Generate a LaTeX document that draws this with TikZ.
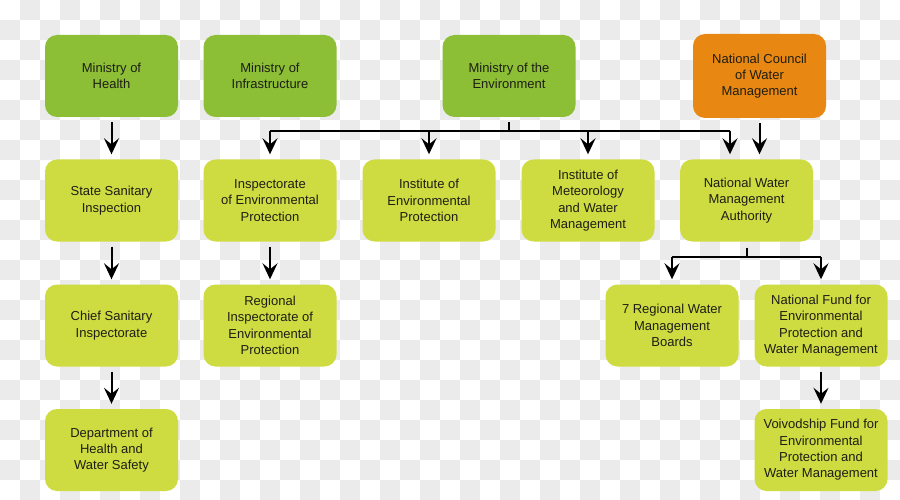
\documentclass[tikz,border=0pt]{standalone}
\usepackage{fontspec}
\setmainfont{Liberation Sans}
\usetikzlibrary{arrows.meta}
\definecolor{bggray}{HTML}{EBEBEB}
\definecolor{darkgr}{HTML}{8CBE36}
\definecolor{lightgr}{HTML}{CEDC42}
\definecolor{orng}{HTML}{E88712}
\definecolor{txt}{HTML}{1E1E14}
\tikzset{
  box/.style={rectangle, rounded corners=12pt, minimum width=133pt, minimum height=82pt,
    align=center, text=txt, font=\fontsize{13}{16.3}\selectfont, inner sep=2pt},
  topbox/.style={box, fill=darkgr},
  subbox/.style={box, fill=lightgr},
  councilbox/.style={box, fill=orng, minimum height=84pt},
  ln/.style={line width=2pt, black},
  arr/.style={ln, -{Stealth[length=16pt, width=15pt, inset=6pt]}},
}
\begin{document}
\begin{tikzpicture}[x=1pt,y=-1pt]
\useasboundingbox (0,0) rectangle (900,500);
\fill[white] (0,0) rectangle (900,500);
\foreach \j in {0,2,...,24} \foreach \i in {1,3,...,43} \fill[bggray] (\i*20,\j*20) rectangle ++(20,20);
\foreach \j in {1,3,...,23} \foreach \i in {0,2,...,44} \fill[bggray] (\i*20,\j*20) rectangle ++(20,20);

% top row
\node[topbox] (health) at (111.5,76) {Ministry of\\Health};
\node[topbox] (infra) at (270,76) {Ministry of\\Infrastructure};
\node[topbox] (env) at (509,76) {Ministry of the\\Environment};
\node[councilbox] (council) at (759.5,76) {National Council\\of Water\\Management};

% second row
\node[subbox] (ssi) at (111.5,200.5) {State Sanitary\\Inspection};
\node[subbox] (iep) at (270,200.5) {Inspectorate\\of Environmental\\Protection};
\node[subbox] (inst) at (429,200.5) {Institute of\\Environmental\\Protection};
\node[subbox] (imet) at (588,200.5) {Institute of\\Meteorology\\and Water\\Management};
\node[subbox] (nwma) at (746.5,200.5) {National Water\\Management\\Authority};

% third row
\node[subbox] (csi) at (111.5,325.5) {Chief Sanitary\\Inspectorate};
\node[subbox] (riep) at (270,325.5) {Regional\\Inspectorate of\\Environmental\\Protection};
\node[subbox] (rwmb) at (672,325.5) {7 Regional Water\\Management\\Boards};
\node[subbox] (fund) at (821,325.5) {National Fund for\\Environmental\\Protection and\\Water Management};

% fourth row
\node[subbox] (dept) at (111.5,450) {Department of\\Health and\\Water Safety};
\node[subbox] (voiv) at (821,450) {Voivodship Fund for\\Environmental\\Protection and\\Water Management};

% simple arrows
\draw[arr, shorten <=5pt, shorten >=5pt] (health) -- (ssi);
\draw[arr, shorten <=5pt, shorten >=5pt] (ssi) -- (csi);
\draw[arr, shorten <=5pt, shorten >=5pt] (csi) -- (dept);
\draw[arr, shorten <=5pt, shorten >=5pt] (iep) -- (riep);
\draw[arr, shorten <=5pt, shorten >=5pt] (fund) -- (voiv);
\draw[arr, shorten <=5pt, shorten >=5pt] (council.south) -- (council.south |- nwma.north);

% ministry of environment branch
\coordinate (envj) at (509,131);
\coordinate (nwj) at (730,131);
\draw[ln, shorten <=5pt] (env.south) -- (envj);
\draw[ln] (iep.north |- envj) -- (nwj);
\draw[arr, shorten >=5pt] (iep.north |- envj) -- (iep.north);
\draw[arr, shorten >=5pt] (inst.north |- envj) -- (inst.north);
\draw[arr, shorten >=5pt] (imet.north |- envj) -- (imet.north);
\draw[arr, shorten >=5pt] (nwj) -- (nwj |- nwma.north);

% NWMA branch
\coordinate (nwmaj) at (746.5,257);
\draw[ln, shorten <=6pt] (nwma.south) -- (nwmaj);
\draw[ln] (rwmb.north |- nwmaj) -- (fund.north |- nwmaj);
\draw[arr, shorten >=5pt] (rwmb.north |- nwmaj) -- (rwmb.north);
\draw[arr, shorten >=5pt] (fund.north |- nwmaj) -- (fund.north);
\end{tikzpicture}
\end{document}
